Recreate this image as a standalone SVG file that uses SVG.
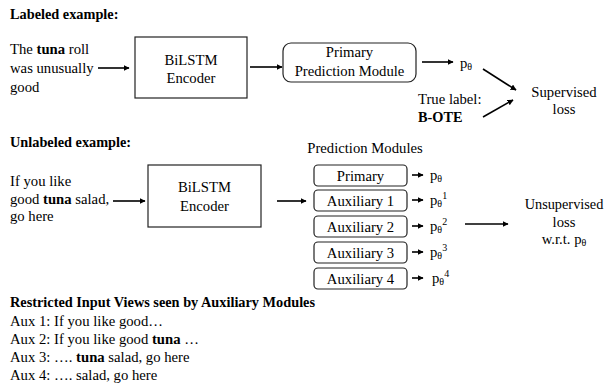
<svg xmlns="http://www.w3.org/2000/svg" width="607" height="383" viewBox="0 0 607 383">
<defs>
<style>
text{font-family:"Liberation Serif","Times New Roman",serif;font-size:14.7px;fill:#000}
.b{font-weight:bold;font-size:14.3px}
tspan.b{font-size:14.7px}
.c{text-anchor:middle}
.box{fill:#fff;stroke:#222;stroke-width:1.2}
.ln{stroke:#000;stroke-width:1.6;fill:none}
.sub{font-size:10px}
</style>
<marker id="ah" viewBox="0 0 10 10" refX="9" refY="5" markerWidth="6" markerHeight="6" markerUnits="userSpaceOnUse" orient="auto"><path d="M0,0 L10,5 L0,10 z" fill="#000"/></marker>
</defs>
<rect width="607" height="383" fill="#fff"/>

<text class="b" x="10" y="19">Labeled example:</text>

<g id="input1">
<text x="10" y="54">The <tspan class="b">tuna</tspan> roll</text>
<text x="10" y="73">was unusually</text>
<text x="10" y="92">good</text>
</g>
<g id="encoder1">
<rect class="box" x="135" y="37" width="112" height="61"/>
<text class="c" x="191" y="65">BiLSTM</text>
<text class="c" x="191" y="83">Encoder</text>
</g>
<g id="primary1">
<rect class="box" x="283" y="43" width="133" height="39" rx="8"/>
<text class="c" x="349.5" y="57">Primary</text>
<text class="c" x="349.5" y="76">Prediction Module</text>
</g>
<g id="p1"><text x="460" y="68">p<tspan class="sub" dy="2">θ</tspan></text></g>
<g id="truelabel">
<text x="418" y="104">True label:</text>
<text class="b" x="418" y="122">B-OTE</text>
</g>
<g id="suploss">
<text class="c" x="564" y="97">Supervised</text>
<text class="c" x="564" y="114">loss</text>
</g>

<text class="b" x="10" y="147">Unlabeled example:</text>
<g id="input2">
<text x="10" y="186">If you like</text>
<text x="10" y="204">good <tspan class="b">tuna</tspan> salad,</text>
<text x="10" y="221">go here</text>
</g>
<g id="encoder2">
<rect class="box" x="148" y="165" width="113" height="62"/>
<text class="c" x="204.5" y="192">BiLSTM</text>
<text class="c" x="204.5" y="211">Encoder</text>
</g>
<text class="c" x="365" y="153">Prediction Modules</text>
<g id="m-primary"><rect class="box" x="314" y="165" width="93" height="21" rx="4"/><text class="c" x="360.5" y="181">Primary</text></g>
<g id="m-aux1"><rect class="box" x="314" y="190" width="93" height="21" rx="4"/><text class="c" x="360.5" y="206">Auxiliary 1</text></g>
<g id="m-aux2"><rect class="box" x="314" y="216" width="93" height="21" rx="4"/><text class="c" x="360.5" y="232">Auxiliary 2</text></g>
<g id="m-aux3"><rect class="box" x="314" y="242" width="93" height="21" rx="4"/><text class="c" x="360.5" y="258">Auxiliary 3</text></g>
<g id="m-aux4"><rect class="box" x="314" y="268" width="93" height="21" rx="4"/><text class="c" x="360.5" y="284">Auxiliary 4</text></g>
<g id="outs">
<text x="430" y="180">p<tspan class="sub" dy="2">θ</tspan></text>
<text x="430" y="205">p<tspan class="sub" dy="2">θ</tspan><tspan class="sub" dy="-8">1</tspan></text>
<text x="430" y="231">p<tspan class="sub" dy="2">θ</tspan><tspan class="sub" dy="-8">2</tspan></text>
<text x="430" y="257">p<tspan class="sub" dy="2">θ</tspan><tspan class="sub" dy="-8">3</tspan></text>
<text x="432" y="283">p<tspan class="sub" dy="2">θ</tspan><tspan class="sub" dy="-8">4</tspan></text>
</g>
<g id="unsuploss">
<text class="c" x="564" y="209" style="font-size:14.3px">Unsupervised</text>
<text class="c" x="564" y="227">loss</text>
<text class="c" x="564" y="244">w.r.t. p<tspan class="sub" dy="2">θ</tspan></text>
</g>

<g id="connectors">
<line class="ln" x1="98" y1="68" x2="129" y2="68" marker-end="url(#ah)"/>
<line class="ln" x1="250" y1="67" x2="282" y2="67" marker-end="url(#ah)"/>
<line class="ln" x1="422" y1="62" x2="453" y2="62" marker-end="url(#ah)"/>
<line class="ln" x1="483" y1="69" x2="516" y2="90" marker-end="url(#ah)"/>
<line class="ln" x1="483" y1="117" x2="513" y2="100" marker-end="url(#ah)"/>
<line class="ln" x1="113" y1="201" x2="145" y2="201" marker-end="url(#ah)"/>
<line class="ln" x1="277" y1="201" x2="306" y2="201" marker-end="url(#ah)"/>
<line class="ln" x1="412" y1="175" x2="423" y2="175" marker-end="url(#ah)"/>
<line class="ln" x1="412" y1="200" x2="423" y2="200" marker-end="url(#ah)"/>
<line class="ln" x1="412" y1="226" x2="423" y2="226" marker-end="url(#ah)"/>
<line class="ln" x1="412" y1="252" x2="423" y2="252" marker-end="url(#ah)"/>
<line class="ln" x1="412" y1="278" x2="423" y2="278" marker-end="url(#ah)"/>
<line class="ln" x1="465" y1="224" x2="508" y2="224" marker-end="url(#ah)"/>
</g>

<g id="views">
<text class="b" x="10" y="307">Restricted Input Views seen by Auxiliary Modules</text>
<text x="10" y="326">Aux 1: If you like good…</text>
<text x="10" y="344">Aux 2: If you like good <tspan class="b">tuna</tspan> …</text>
<text x="10" y="362">Aux 3: …. <tspan class="b">tuna</tspan> salad, go here</text>
<text x="10" y="380">Aux 4: …. salad, go here</text>
</g>
</svg>
